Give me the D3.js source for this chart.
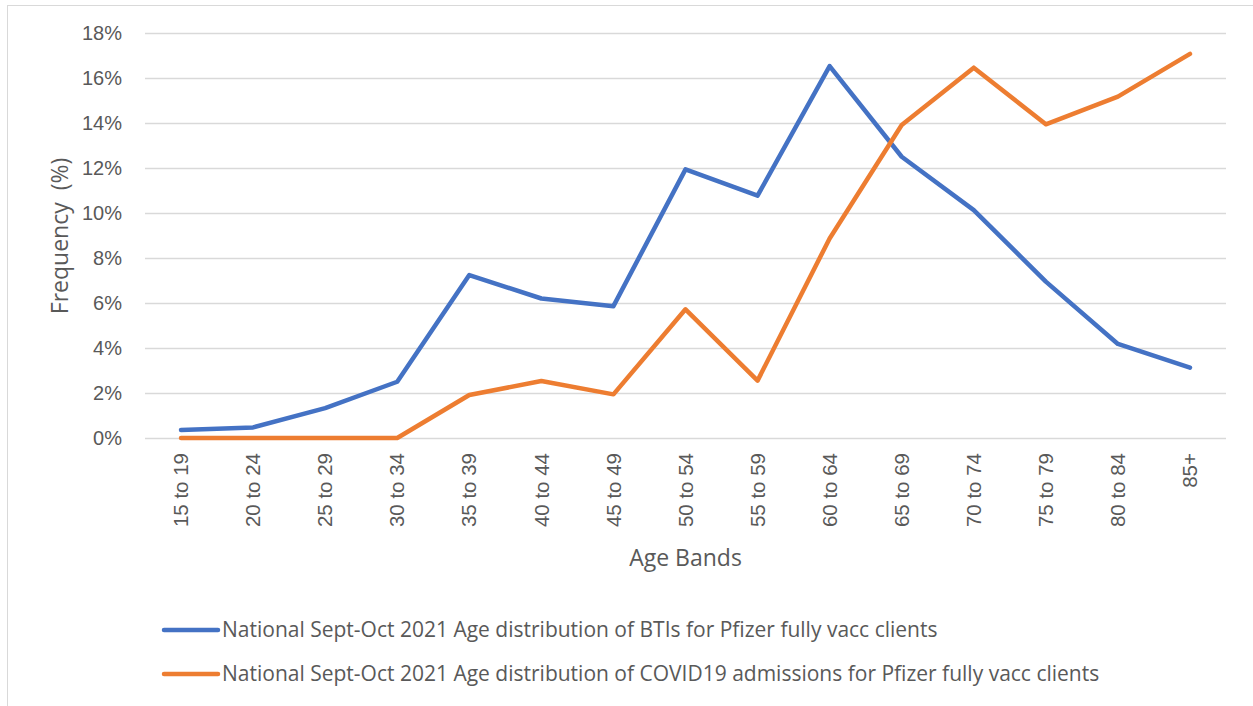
<!DOCTYPE html>
<html>
<head>
<meta charset="utf-8">
<script src="https://cdn.jsdelivr.net/npm/d3@7"></script>
<style>
  body { margin: 0; background: #fff; }
  svg { display: block; font-family: "Open Sans", "Noto Sans", sans-serif; }
</style>
</head>
<body>
<div id="wrapper"></div>
<script>
const ageBands = ["15 to 19", "20 to 24", "25 to 29", "30 to 34", "35 to 39", "40 to 44", "45 to 49",
  "50 to 54", "55 to 59", "60 to 64", "65 to 69", "70 to 74", "75 to 79", "80 to 84", "85+"]
const btiValues = [0.36, 0.47, 1.33, 2.5, 7.24, 6.2, 5.86, 11.94, 10.77, 16.53, 12.5, 10.13, 6.95, 4.18, 3.13]
const admissionValues = [0, 0, 0, 0, 1.91, 2.53, 1.94, 5.72, 2.55, 8.87, 13.91, 16.46, 13.94, 15.17, 17.07]
const yTicks = [0, 2, 4, 6, 8, 10, 12, 14, 16, 18]
const seriesNames = [
  "National Sept-Oct 2021 Age distribution of BTIs for Pfizer fully vacc clients",
  "National Sept-Oct 2021 Age distribution of COVID19 admissions for Pfizer fully vacc clients"
]
const seriesColors = ["#4472c4", "#ed7d31"]

function drawChart() {
  let dimensions = {
    width: 1253,
    height: 706,
    margin: { top: 33, right: 27, bottom: 268, left: 145 },
  }
  dimensions.boundedWidth = dimensions.width - dimensions.margin.left - dimensions.margin.right
  dimensions.boundedHeight = dimensions.height - dimensions.margin.top - dimensions.margin.bottom

  const wrapper = d3.select("#wrapper")
    .append("svg")
      .attr("width", dimensions.width)
      .attr("height", dimensions.height)

  // chart frame
  wrapper.append("rect")
    .attr("x", 7.5).attr("y", 5.5)
    .attr("width", dimensions.width)
    .attr("height", dimensions.height)
    .attr("fill", "none")
    .attr("stroke", "#d9d9d9")

  const bounds = wrapper.append("g")
    .attr("transform", `translate(${dimensions.margin.left},${dimensions.margin.top})`)

  const xScale = d3.scaleBand()
    .domain(ageBands)
    .range([0, dimensions.boundedWidth])

  const yScale = d3.scaleLinear()
    .domain([0, 18])
    .range([dimensions.boundedHeight, 0])

  // gridlines
  bounds.append("g")
    .selectAll("line")
    .data(yTicks)
    .join("line")
      .attr("x1", 0)
      .attr("x2", dimensions.boundedWidth)
      .attr("y1", d => Math.round(yScale(d)) + 0.5)
      .attr("y2", d => Math.round(yScale(d)) + 0.5)
      .attr("stroke", "#d9d9d9")
      .attr("stroke-width", 1.3)

  // y axis
  const yAxisGenerator = d3.axisLeft(yScale)
    .tickValues(yTicks)
    .tickFormat(d => d + "%")
    .tickSize(0)
    .tickPadding(23)
  const yAxis = bounds.append("g").call(yAxisGenerator)
  yAxis.select(".domain").remove()
  yAxis.selectAll("text")
    .attr("fill", "#595959")
    .style("font-size", "20px")

  // x axis
  const xAxisGenerator = d3.axisBottom(xScale).tickSize(0)
  const xAxis = bounds.append("g")
    .attr("transform", `translate(0,${dimensions.boundedHeight})`)
    .call(xAxisGenerator)
  xAxis.select(".domain").remove()
  xAxis.selectAll("text")
    .attr("fill", "#595959")
    .style("font-size", "20.5px")
    .attr("text-anchor", "end")
    .attr("dy", "0.35em")
    .attr("transform", "translate(0,15) rotate(-90)")
    .attr("x", 0)
    .attr("y", 0)

  // lines
  const lineGenerator = d3.line()
    .x((d, i) => xScale(ageBands[i]) + xScale.bandwidth() / 2)
    .y(d => yScale(d))

  const allSeries = [btiValues, admissionValues]
  bounds.selectAll(".series")
    .data(allSeries)
    .join("path")
      .attr("class", "series")
      .attr("d", d => lineGenerator(d))
      .attr("fill", "none")
      .attr("stroke", (d, i) => seriesColors[i])
      .attr("stroke-width", 4.5)
      .attr("stroke-linejoin", "round")
      .attr("stroke-linecap", "round")

  // axis titles
  wrapper.append("text")
    .attr("transform", "translate(68,236) rotate(-90)")
    .attr("text-anchor", "middle")
    .attr("fill", "#595959")
    .style("font-size", "23px")
    .style("white-space", "pre")
    .text("Frequency  (%)")

  wrapper.append("text")
    .attr("x", dimensions.margin.left + dimensions.boundedWidth / 2)
    .attr("y", 566)
    .attr("text-anchor", "middle")
    .attr("fill", "#595959")
    .style("font-size", "23px")
    .text("Age Bands")

  // legend
  const legend = wrapper.append("g")
    .selectAll("g")
    .data(seriesNames)
    .join("g")
      .attr("transform", (d, i) => `translate(164,${630 + i * 44})`)
  legend.append("line")
    .attr("x1", 0).attr("x2", 54)
    .attr("stroke", (d, i) => seriesColors[i])
    .attr("stroke-width", 4.5)
    .attr("stroke-linecap", "round")
  legend.append("text")
    .attr("x", 58)
    .attr("dy", "0.35em")
    .attr("fill", "#595959")
    .style("font-size", "21px")
    .text(d => d)
}

drawChart()
</script>
</body>
</html>
